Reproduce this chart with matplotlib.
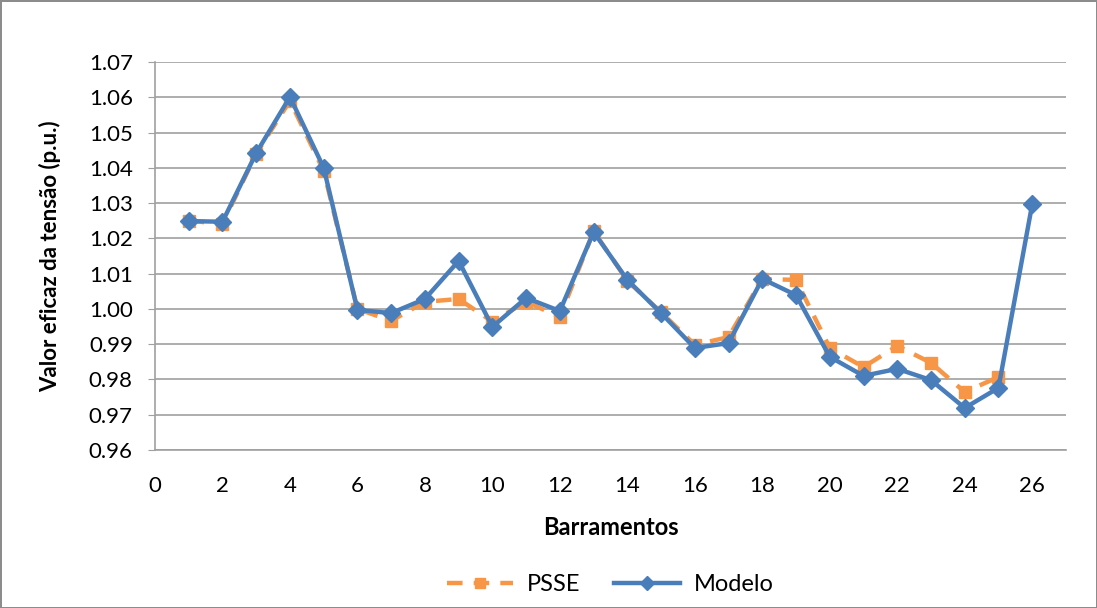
import numpy as np
import matplotlib.pyplot as plt

plt.rcParams['font.family'] = ['Lato', 'DejaVu Sans']

barras_psse = list(range(1, 26))
psse = [1.025, 1.0241, 1.044, 1.059, 1.0391, 1.000, 0.9966, 1.002, 1.0028, 0.9964,
        1.002, 0.9977, 1.022, 1.008, 0.999, 0.9898, 0.992, 1.0085, 1.0082, 0.9889,
        0.9835, 0.9895, 0.9847, 0.9764, 0.9807]

barras_modelo = list(range(1, 27))
modelo = [1.0249, 1.0247, 1.0442, 1.0601, 1.0400, 0.9997, 0.9988, 1.0028, 1.0136, 0.9949,
          1.0031, 0.9994, 1.0218, 1.0082, 0.9988, 0.9889, 0.9903, 1.0085, 1.0039, 0.9864,
          0.9810, 0.9830, 0.9798, 0.9719, 0.9776, 1.0297]

azul = '#4A7EBB'
laranja = '#F79646'


def main():
    fig = plt.figure(figsize=(10.97, 6.08), dpi=100)
    fig.patch.set_edgecolor('#8c8c8c')
    fig.patch.set_linewidth(2)
    ax = fig.add_axes([0.1413, 0.26, 0.8304, 0.638])

    ax.plot(barras_psse, psse, color=laranja, lw=3.2, ls=(0, (3.5, 2.5)),
            marker='s', ms=9, label='PSSE', zorder=3)
    ax.plot(barras_modelo, modelo, color=azul, lw=3.2, marker='D', ms=9,
            label='Modelo', zorder=4)

    ax.set_xlim(0, 27)
    ax.set_ylim(0.96, 1.07)
    ax.set_xticks(np.arange(0, 27, 2))
    ax.set_yticks(np.arange(0.96, 1.0701, 0.01))
    ax.set_yticklabels(['%.2f' % v for v in np.arange(0.96, 1.0701, 0.01)])
    ax.grid(axis='y', color='#a0a0a0', lw=1.2)
    ax.set_axisbelow(True)
    for s in ['top', 'right']:
        ax.spines[s].set_visible(False)
    for s in ['left', 'bottom']:
        ax.spines[s].set_color('#a0a0a0')
        ax.spines[s].set_linewidth(1.2)
    ax.tick_params(axis='y', length=5, color='#a0a0a0', labelsize=16, pad=11)
    ax.tick_params(axis='x', length=0, labelsize=16, pad=19)

    ax.set_xlabel('Barramentos', fontsize=17, fontweight='bold', labelpad=14)
    ax.set_ylabel('Valor eficaz da tensão (p.u.)', fontsize=16, fontweight='bold', labelpad=20)

    leg = ax.legend(loc='upper center', bbox_to_anchor=(0.5, -0.265), ncol=2, frameon=False,
                    fontsize=17, handlelength=2.8, handletextpad=0.6, columnspacing=1.4,
                    markerscale=0.8)

    fig.savefig('out.png', dpi=100)


if __name__ == '__main__':
    main()
